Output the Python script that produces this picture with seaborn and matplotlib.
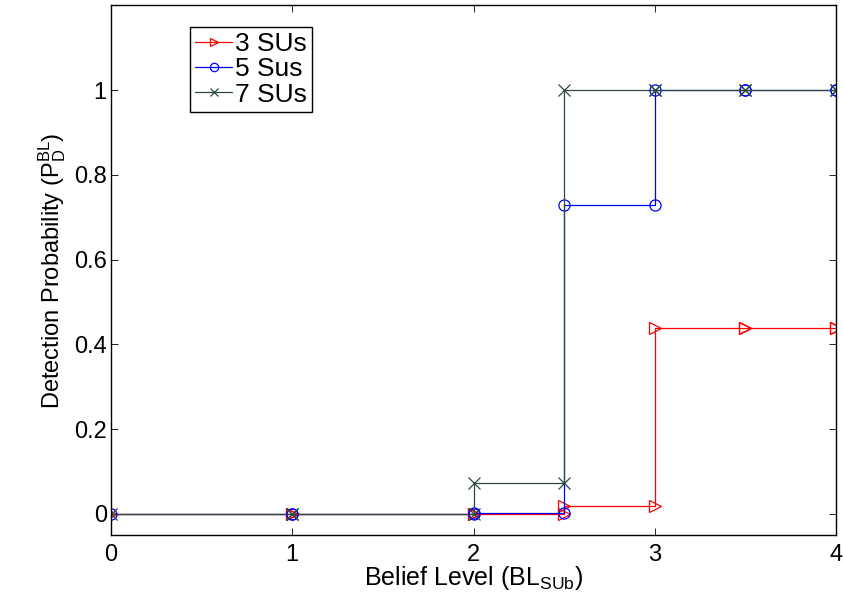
import numpy as np
import matplotlib
matplotlib.use("Agg")
import matplotlib.pyplot as plt
import seaborn as sns

# belief level values and detection probabilities
belief = [0, 1, 2, 2.5, 3, 3.5, 4]
pd_3su = [0, 0, 0, 0.02, 0.44, 0.44, 0.44]
pd_5su = [0, 0, 0.003, 0.73, 1, 1, 1]
pd_7su = [0, 0, 0.073, 1, 1, 1, 1]
labels = ["3 SUs", "5 Sus", "7 SUs"]

sns.set_style("white")
plt.rcParams['font.family'] = ['Liberation Sans', 'DejaVu Sans']
plt.rcParams['mathtext.fontset'] = 'custom'
plt.rcParams['mathtext.rm'] = 'Liberation Sans'
plt.rcParams['mathtext.it'] = 'Liberation Sans'
plt.rcParams['text.color'] = 'black'
plt.rcParams['axes.labelcolor'] = 'black'
plt.rcParams['xtick.color'] = 'black'
plt.rcParams['ytick.color'] = 'black'


def stairs(x, y):
    """vertices of a MATLAB-style stairs line (markers on every corner)"""
    x = np.asarray(x, float)
    y = np.asarray(y, float)
    xx = np.repeat(x, 2)[1:]
    yy = np.repeat(y, 2)[:-1]
    return xx, yy


fig = plt.figure(figsize=(8.43, 6.02), dpi=100)
ax = fig.add_axes([0.1317, 0.111, 0.860, 0.880])

styles = [("#ff0000", ">"), ("#0000ff", "o"), ("#2b4a3c", "x")]
for y, lab, (col, mk) in zip([pd_3su, pd_5su, pd_7su], labels, styles):
    xx, yy = stairs(belief, y)
    sns.lineplot(x=xx, y=yy, sort=False, estimator=None, ax=ax, label=lab,
                 color=col, linewidth=0.9, marker=mk, markersize=8,
                 markerfacecolor='none', markeredgecolor=col,
                 markeredgewidth=0.9)

ax.set_xlim(0, 4)
ax.set_ylim(-0.05, 1.2)
ax.set_xticks([0, 1, 2, 3, 4])
ax.set_xticklabels(["0", "1", "2", "3", "4"])
ax.set_yticks([0, 0.2, 0.4, 0.6, 0.8, 1])
ax.set_yticklabels(["0", "0.2", "0.4", "0.6", "0.8", "1"])
ax.tick_params(direction='in', length=5, width=0.6, labelsize=17,
               top=True, right=True, bottom=True, left=True, pad=3)
ax.tick_params(axis='x', pad=6)
for s in ax.spines.values():
    s.set_color('black')
    s.set_linewidth(1.0)

ax.set_xlabel(r"Belief Level (BL$_{\mathrm{SUb}}$)", fontsize=18, labelpad=-1)
ax.set_ylabel(r"Detection Probability (P$_{\mathrm{D}}^{\mathrm{BL}}$)",
              fontsize=17, labelpad=4)

leg = ax.legend(loc='upper left', bbox_to_anchor=(0.109, 0.96),
                borderaxespad=0, fontsize=19, handlelength=1.4,
                handletextpad=0.1, labelspacing=0.05, borderpad=0.2,
                markerscale=0.75, fancybox=False, framealpha=1)
leg.get_frame().set_edgecolor('black')
leg.get_frame().set_linewidth(1.0)

fig.savefig("out.png", dpi=100)
